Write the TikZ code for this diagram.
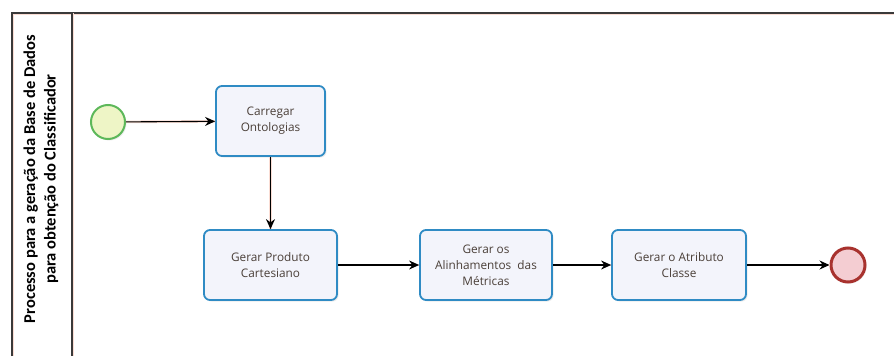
\documentclass[tikz,border=0pt]{standalone}
\usepackage{fontspec}
\setmainfont{Open Sans}
\newfontfamily\headfont{Carlito}
\usetikzlibrary{arrows.meta,shadows}
\definecolor{taskblue}{HTML}{2F8BC4}
\definecolor{taskfill}{HTML}{F3F4FB}
\definecolor{tasktext}{HTML}{4A3F38}
\definecolor{startline}{HTML}{5DB85A}
\definecolor{startfill}{HTML}{EEF5C6}
\definecolor{endline}{HTML}{A8322E}
\definecolor{endfill}{HTML}{F4CDD2}
\definecolor{poolline}{HTML}{3A3A3A}
\definecolor{glow}{HTML}{FADDD4}
\tikzset{
  task/.style={draw=taskblue, line width=1.8pt, fill=taskfill, rounded corners=6pt,
    minimum width=#1, minimum height=70pt, align=center, text=tasktext,
    font=\fontsize{11.8}{16}\selectfont, inner sep=2pt,
    drop shadow={shadow xshift=1.5pt, shadow yshift=-1.5pt, opacity=0.15, fill=gray}},
  task/.default=110pt,
  startev/.style={circle, draw=startline, line width=2pt, fill=startfill, minimum size=34pt, inner sep=0pt,
    drop shadow={shadow xshift=1.5pt, shadow yshift=-1.5pt, opacity=0.15, fill=gray}},
  endev/.style={circle, draw=endline, line width=3pt, fill=endfill, minimum size=34pt, inner sep=0pt,
    drop shadow={shadow xshift=1.5pt, shadow yshift=-1.5pt, opacity=0.15, fill=gray}},
  flow/.style={draw=black, line width=1.1pt, -{Stealth[length=10pt,width=9pt]},
    preaction={draw=glow, line width=2.6pt, -}},
  poolrule/.style={draw=poolline, line width=1.2pt, preaction={draw=glow, line width=3pt}},
}
\begin{document}
\begin{tikzpicture}[x=1pt, y=-1pt]
  \useasboundingbox (0,0) rectangle (894,356);
  \fill[white] (0,0) rectangle (894,356);
  % pool frame and header lane
  \draw[poolrule] (12,356) -- (12,13) -- (894,13);
  \draw[poolrule] (72,13) -- (72,356);
  \node[rotate=90, align=center, text=black, font=\headfont\bfseries\fontsize{16.5}{20.5}\selectfont]
    (title) at (41,179) {Processo para a geração da Base de Dados\\para obtenção do Classificador};
  % events and tasks
  \node[startev] (start) at (108,122) {};
  \node[task=109pt] (carregar) at (270.5,121) {Carregar\\Ontologias};
  \node[task=133pt] (produto) at (270.5,265) {Gerar Produto\\Cartesiano};
  \node[task=132pt] (alinh) at (486,265) {Gerar os\\Alinhamentos\ \ das\\Métricas};
  \node[task=134pt] (atributo) at (679,265) {Gerar o Atributo\\Classe};
  \node[endev] (end) at (848,265) {};
  % sequence flows
  \draw[flow] (start) -- (carregar);
  \draw[flow] (carregar) -- (produto);
  \draw[flow] (produto) -- (alinh);
  \draw[flow] (alinh) -- (atributo);
  \draw[flow] (atributo) -- (end);
\end{tikzpicture}
\end{document}
